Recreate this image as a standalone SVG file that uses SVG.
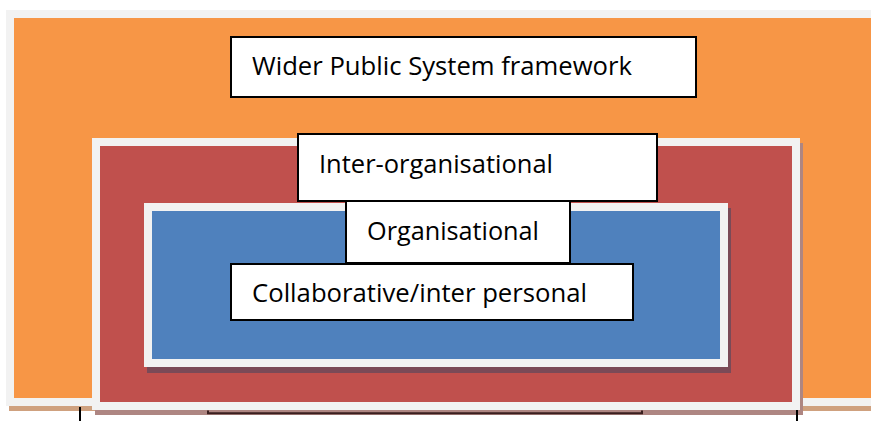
<svg xmlns="http://www.w3.org/2000/svg" width="871" height="421" viewBox="0 0 871 421">
<style>
.frame{fill:#F2F2F2}
.box{fill:#FFFFFF;stroke:#000000;stroke-width:2}
.lbl{font-family:"Open Sans","Noto Sans","Liberation Sans",sans-serif;font-size:26px;fill:#000000}
.edge{stroke:#000000;stroke-width:2;fill:none}
</style>
<rect width="871" height="421" fill="#FFFFFF"/>
<g id="layer-wider">
<rect x="9" y="15" width="870" height="396" fill="#CFA17F"/>
<rect class="frame" x="6" y="10" width="870" height="396"/>
<rect x="14" y="18" width="862" height="380" fill="#F79646"/>
</g>
<g id="layer-inter">
<rect x="95" y="143" width="708" height="272" fill="#AE8682"/>
<rect class="frame" x="92" y="138" width="708" height="272"/>
<rect x="100" y="146" width="692" height="256" fill="#C0504D"/>
</g>
<g id="layer-org">
<rect x="147" y="208" width="584" height="165" fill="#7A4A57"/>
<rect class="frame" x="144" y="203" width="584" height="164"/>
<rect x="152" y="211" width="568" height="148" fill="#4F81BD"/>
</g>
<g id="lines">
<path class="edge" d="M80,407 V421"/>
<path class="edge" d="M797,410 V421"/>
<path d="M208,410.5 V413.3 H642 V410.5" fill="none" stroke="#3A1F1F" stroke-width="2"/>
</g>
<g id="node-wider">
<rect class="box" x="231" y="37" width="465" height="60"/>
<text class="lbl" x="252" y="75" textLength="380" lengthAdjust="spacingAndGlyphs">Wider Public System framework</text>
</g>
<g id="node-inter">
<rect class="box" x="298" y="134" width="359" height="67"/>
<text class="lbl" x="319" y="173" textLength="234" lengthAdjust="spacingAndGlyphs">Inter-organisational</text>
</g>
<g id="node-org">
<rect class="box" x="346" y="201" width="224" height="62"/>
<text class="lbl" x="367" y="240" textLength="172" lengthAdjust="spacingAndGlyphs">Organisational</text>
</g>
<g id="node-collab">
<rect class="box" x="231" y="264" width="402" height="56"/>
<text class="lbl" x="252" y="302" textLength="335" lengthAdjust="spacingAndGlyphs">Collaborative/inter personal</text>
</g>
</svg>
